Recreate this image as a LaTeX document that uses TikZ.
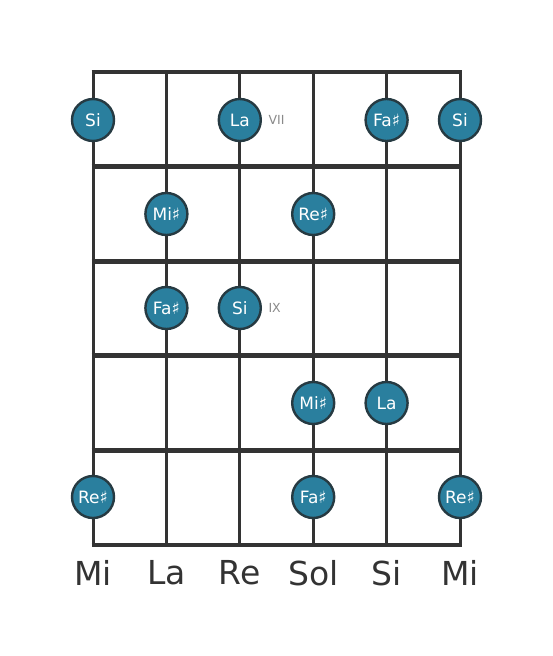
\documentclass[tikz,border=0pt]{standalone}
\usepackage{fontspec}
\setmainfont{DejaVu Sans}
\usepackage{tikz}
\usetikzlibrary{positioning}

\definecolor{notefill}{HTML}{2A7F9E}
\definecolor{noteline}{HTML}{263A42}
\definecolor{fretline}{HTML}{333333}
\definecolor{fretmark}{HTML}{8A8A8A}

\tikzset{
  note/.style={circle, draw=noteline, line width=2.4pt, fill=notefill, minimum size=42pt,
    inner sep=0pt, text=white, font=\fontsize{17}{17}\selectfont},
  fretno/.style={text=fretmark, font=\fontsize{12.5}{12.5}\selectfont, anchor=west},
  openstr/.style={text=fretline, font=\fontsize{33}{33}\selectfont}
}

\begin{document}
\begin{tikzpicture}[x=1pt, y=-1pt]
  \useasboundingbox (0,0) rectangle (553,656);
  % strings
  \foreach \s in {93,166.4,239.8,313.2,386.6,460}
    \draw[fretline, line width=3pt] (\s,72) -- (\s,545);
  % frets
  \foreach \f in {72,166.6,261.2,355.8,450.4,545}
    \draw[fretline, line width=4.8pt] (91.5,\f) -- (461.5,\f);

  \node (n1a) [note] at (93,120)    {Si};
  \node (n1b) [note] at (239.8,120) {La};
  \node (n1c) [note] at (386.6,120) {Fa\char"266F};
  \node (n1d) [note] at (460,120)   {Si};
  \node (vii) [fretno, right=3pt of n1b] {VII};

  \node (n2a) [note] at (166.4,214) {Mi\char"266F};
  \node (n2b) [note] at (313.2,214) {Re\char"266F};

  \node (n3a) [note] at (166.4,308) {Fa\char"266F};
  \node (n3b) [note] at (239.8,308) {Si};
  \node (ix) [fretno, right=3pt of n3b] {IX};

  \node (n4a) [note] at (313.2,403) {Mi\char"266F};
  \node (n4b) [note] at (386.6,403) {La};

  \node (n5a) [note] at (93,497)    {Re\char"266F};
  \node (n5b) [note] at (313.2,497) {Fa\char"266F};
  \node (n5c) [note] at (460,497)   {Re\char"266F};

  % open strings
  \node (s1) [openstr] at (93,573)    {Mi};
  \node (s2) [openstr] at (166.4,573) {La};
  \node (s3) [openstr] at (239.8,573) {Re};
  \node (s4) [openstr] at (313.2,573) {Sol};
  \node (s5) [openstr] at (386.6,573) {Si};
  \node (s6) [openstr] at (460,573)   {Mi};
\end{tikzpicture}
\end{document}
